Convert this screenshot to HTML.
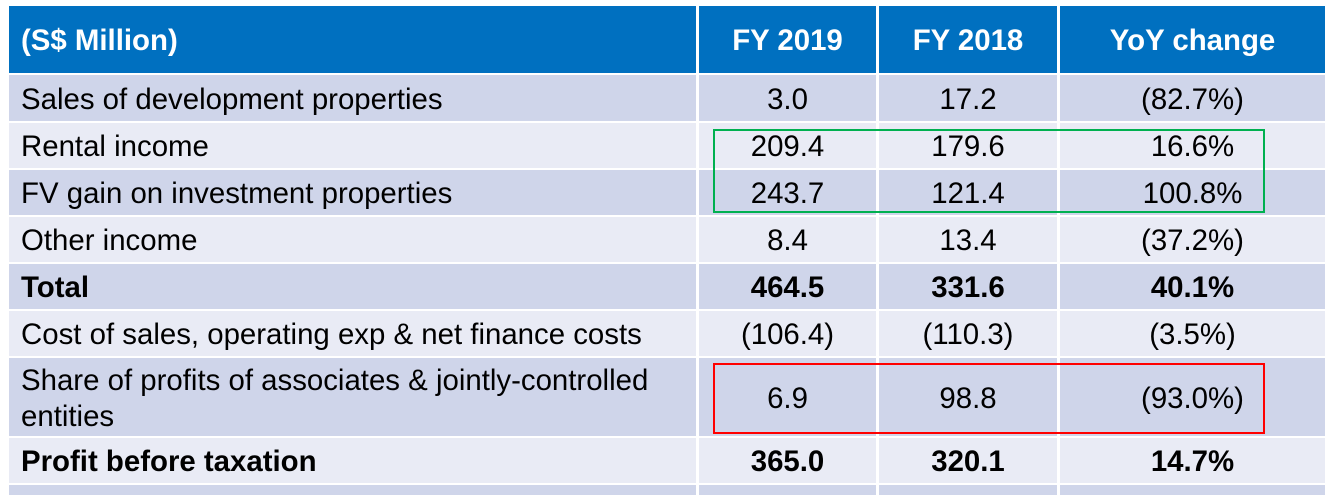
<!DOCTYPE html>
<html><head><meta charset="utf-8"><style>
body{margin:0;width:1339px;height:490px;background:#fff;overflow:hidden;font-family:"Liberation Sans",Arial,sans-serif;position:relative}
.c{position:absolute;box-sizing:border-box;display:flex;align-items:center;font-size:29.4px;color:#000;line-height:36px;padding-top:3px}
.h{background:#0070C0;color:#fff;font-weight:bold}
.d{background:#CFD5EA}.l{background:#E9EBF5}
.lab{padding-left:12px;justify-content:flex-start}.num{justify-content:center}
.b{font-weight:bold}
.box{position:absolute;box-sizing:border-box;border:2px solid}
</style></head><body>
<div id="t"></div>
<div class="box" style="left:713px;top:129px;width:552px;height:84px;border-color:#00B050"></div>
<div class="box" style="left:713px;top:363px;width:552px;height:71px;border-color:#FF0000"></div>
<script>
const cols=[[9,687],[699,177],[879,178],[1060,265]];
const rowsY=[[6,67],[75,46],[123,45],[170,45],[217,45],[264,45],[311,45],[358,78],[438,45],[485,10]];
const header=["(S$ Million)","FY 2019","FY 2018","YoY change"];
const labels=["Sales of development properties","Rental income","FV gain on investment properties","Other income","Total","Cost of sales, operating exp & net finance costs","Share of profits of associates & jointly-controlled\nentities","Profit before taxation",""];
const fy2019=["3.0","209.4","243.7","8.4","464.5","(106.4)","6.9","365.0",""];
const fy2018=["17.2","179.6","121.4","13.4","331.6","(110.3)","98.8","320.1",""];
const yoy=["(82.7%)","16.6%","100.8%","(37.2%)","40.1%","(3.5%)","(93.0%)","14.7%",""];
const bold=[4,7];
const t=document.getElementById('t');
function cell(x,y,w,h,cls,txt,name){
  const e=document.createElement('div');
  e.className='c '+cls;
  e.style.cssText=`left:${x}px;top:${y}px;width:${w}px;height:${h}px;white-space:pre`;
  e.textContent=txt;
  
  
  t.appendChild(e);
}
header.forEach((s,i)=>{
  const [x,w]=cols[i];const [y,h]=rowsY[0];
  cell(x,y,w,h,'h'+(i==0?' lab':' num'),s,'header-cell');
});
for(let r=0;r<labels.length;r++){
  const [y,h]=rowsY[r+1];
  const bg=r%2==0?'d':'l';
  const b=bold.includes(r)?' b':'';
  const vals=[labels[r],fy2019[r],fy2018[r],yoy[r]];
  vals.forEach((v,i)=>{
    const [x,w]=cols[i];
    cell(x,y,w,h,bg+b+(i==0?' lab':' num'),v,i==0?'row-label':'value-cell');
  });
}
</script>
</body></html>
